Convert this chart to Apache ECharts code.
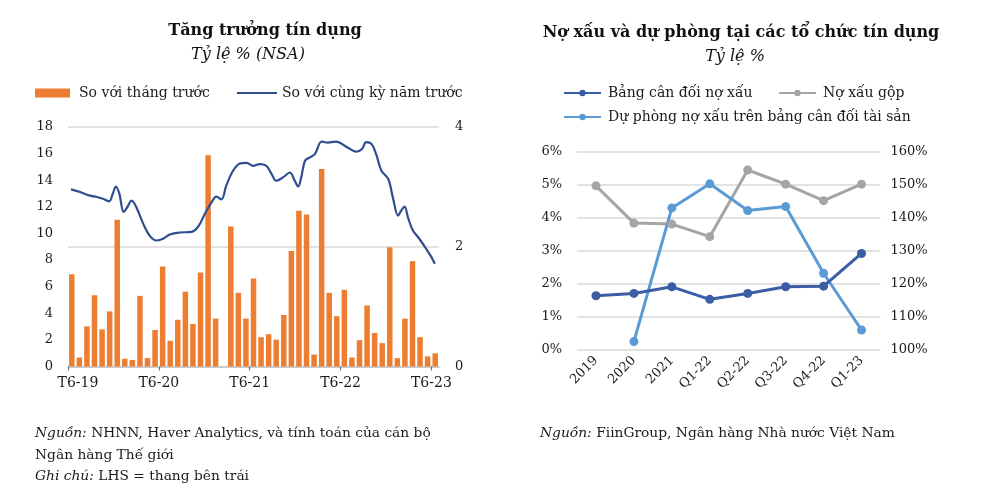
<!DOCTYPE html>
<html><head><meta charset="utf-8">
<script src="https://cdn.jsdelivr.net/npm/echarts@6/dist/echarts.min.js"></script>
<style>html,body{margin:0;padding:0;background:#fff}#c{width:1000px;height:499px}</style>
</head><body><div id="c"></div>
<script>
// ---- Left chart data ----
const monthTickLabels = ['T6-19', 'T6-20', 'T6-21', 'T6-22', 'T6-23'];
const monthTickPos = [0, 12, 24, 36, 48];
// month-on-month growth (RHS), Jun-2019 .. Jun-2023
const momGrowth = [1.54, 0.15, 0.67, 1.19, 0.62, 0.92, 2.45, 0.13, 0.11, 1.18, 0.14, 0.61,
  1.67, 0.43, 0.78, 1.25, 0.71, 1.57, 3.53, 0.80, -0.07, 2.34, 1.23, 0.80,
  1.47, 0.49, 0.54, 0.45, 0.86, 1.93, 2.60, 2.54, 0.20, 3.30, 1.23, 0.84,
  1.28, 0.15, 0.44, 1.02, 0.56, 0.39, 1.99, 0.14, 0.80, 1.76, 0.49, 0.17, 0.22];
// year-on-year growth (LHS): time in months since start of Jun-2019
const yoyTime = [0.4, 1.6, 2.9, 3.8, 4.7, 5.45, 5.9, 6.33, 6.77, 7.35, 7.8, 8.4, 9.07, 9.94, 10.8, 11.7, 12.57, 13.46, 14.8, 16.3,
  17.2, 18.07, 18.96, 19.6, 20.27, 20.9, 21.8, 22.7, 23.6, 24.45, 25.3, 26.2, 26.9, 27.5, 28.4, 29.3, 29.95, 30.4, 30.8,
  31.3, 31.9, 32.6, 33.5, 34.3, 35.4, 36.8, 38.1, 38.8, 39.4, 40.1, 40.7, 41.4, 42.3, 42.9, 43.6, 44.0, 44.46, 44.9,
  45.55, 46.4, 47.3, 48.0, 48.45];
const yoyGrowth = [13.31, 13.11, 12.84, 12.74, 12.59, 12.41, 12.96, 13.53, 13.01, 11.62, 11.95, 12.46, 11.92, 10.72, 9.82, 9.47, 9.6, 9.92, 10.07, 10.12,
  10.52, 11.47, 12.34, 12.76, 12.56, 13.59, 14.71, 15.25, 15.31, 15.08, 15.21, 15.08, 14.46, 13.96, 14.21, 14.58, 13.96, 13.53, 14.21,
  15.46, 15.7, 15.96, 16.9, 16.83, 16.9, 16.5, 16.15, 16.33, 16.86, 16.71, 15.96, 14.71, 14.09, 12.71, 11.34, 11.71, 12.01, 11.21,
  10.22, 9.6, 8.85, 8.22, 7.72];
// ---- Right chart data ----
const periods = ['2019', '2020', '2021', 'Q1-22', 'Q2-22', 'Q3-22', 'Q4-22', 'Q1-23'];
const nplBalance = [1.63, 1.70, 1.90, 1.52, 1.70, 1.90, 1.92, 2.91];
const nplGross = [4.96, 3.83, 3.80, 3.42, 5.44, 5.01, 4.51, 5.01];
const llrCoverage = [null, 102.4, 142.9, 150.2, 142.1, 143.3, 123.1, 105.9];

const months = momGrowth.map((_, i) => {
  const m = (5 + i) % 12 + 1, y = 19 + Math.floor((5 + i) / 12);
  return 'T' + m + '-' + y;
});

const FONT = '"DejaVu Serif", serif';
const TXT = '#1a1a1a';
const GRIDC = '#D9D9D9';
const FN = 13.8;

const chart = echarts.init(document.getElementById('c'), null, { renderer: 'canvas' });
const labelBase = { fontFamily: FONT, fontSize: 13, color: TXT };
const italicRich = { i: { fontFamily: FONT, fontSize: FN, fontStyle: 'italic', fill: TXT } };

chart.setOption({
  animation: false,
  backgroundColor: '#fff',
  graphic: [
    { type: 'text', x: 265, y: 31, style: { text: 'Tăng trưởng tín dụng', font: 'bold 16px ' + FONT, fill: '#111', align: 'center', verticalAlign: 'middle' } },
    { type: 'text', x: 248, y: 55, style: { text: 'Tỷ lệ % (NSA)', font: 'italic 16px ' + FONT, fill: '#111', align: 'center', verticalAlign: 'middle' } },
    { type: 'text', x: 741, y: 33, style: { text: 'Nợ xấu và dự phòng tại các tổ chức tín dụng', font: 'bold 16px ' + FONT, fill: '#111', align: 'center', verticalAlign: 'middle' } },
    { type: 'text', x: 735, y: 57, style: { text: 'Tỷ lệ %', font: 'italic 16px ' + FONT, fill: '#111', align: 'center', verticalAlign: 'middle' } },
    { type: 'text', x: 35, y: 433, style: { text: '{i|Nguồn:} NHNN, Haver Analytics, và tính toán của cán bộ', font: FN + 'px ' + FONT, fill: TXT, verticalAlign: 'middle', rich: italicRich } },
    { type: 'text', x: 35, y: 455, style: { text: 'Ngân hàng Thế giới', font: FN + 'px ' + FONT, fill: TXT, verticalAlign: 'middle' } },
    { type: 'text', x: 35, y: 476, style: { text: '{i|Ghi chú:} LHS = thang bên trái', font: FN + 'px ' + FONT, fill: TXT, verticalAlign: 'middle', rich: italicRich } },
    { type: 'text', x: 540, y: 433, style: { text: '{i|Nguồn:} FiinGroup, Ngân hàng Nhà nước Việt Nam', font: FN + 'px ' + FONT, fill: TXT, verticalAlign: 'middle', rich: italicRich } }
  ],
  legend: [
    { data: ['So với tháng trước'], left: 35, top: 86, padding: 0, icon: 'rect', itemWidth: 35, itemHeight: 9, textStyle: { fontFamily: FONT, fontSize: 14, color: TXT, padding: [0, 0, 0, 4] } },
    { data: [{ name: 'So với cùng kỳ năm trước', icon: 'rect' }], left: 237, top: 86, padding: 0, itemWidth: 40, itemHeight: 2, textStyle: { fontFamily: FONT, fontSize: 14, color: TXT } },
    { data: ['Bảng cân đối nợ xấu'], left: 563, top: 86, padding: 0, itemWidth: 37, itemHeight: 8, textStyle: { fontFamily: FONT, fontSize: 14, color: TXT, padding: [0, 0, 0, 2] } },
    { data: ['Nợ xấu gộp'], left: 778, top: 86, padding: 0, itemWidth: 37, itemHeight: 8, textStyle: { fontFamily: FONT, fontSize: 14, color: TXT, padding: [0, 0, 0, 2] } },
    { data: ['Dự phòng nợ xấu trên bảng cân đối tài sản'], left: 563, top: 110, padding: 0, itemWidth: 37, itemHeight: 8, textStyle: { fontFamily: FONT, fontSize: 14, color: TXT, padding: [0, 0, 0, 2] } }
  ],
  grid: [
    { left: 68, top: 127, width: 371, height: 239.5 },
    { left: 577, top: 151.5, width: 303.5, height: 198 }
  ],
  xAxis: [
    { type: 'category', gridIndex: 0, data: months, boundaryGap: true, show: false },
    { type: 'value', gridIndex: 0, min: 0, max: 49, position: 'bottom',
      axisLine: { show: true, lineStyle: { color: '#C4C4C4', width: 1.5 } },
      axisTick: { show: true, customValues: monthTickPos, length: 4, lineStyle: { color: '#777', width: 1.2 } },
      splitLine: { show: false },
      axisLabel: Object.assign({}, labelBase, { fontSize: 14, margin: 10, customValues: monthTickPos,
        formatter: v => { const k = monthTickPos.indexOf(v); if (k < 0) return ''; return k === 0 ? '{f|' + monthTickLabels[k] + '}' : monthTickLabels[k]; },
        rich: { f: { fontFamily: FONT, fontSize: 14, color: TXT, padding: [0, 0, 0, 20] } } }) },
    { type: 'category', gridIndex: 1, data: periods, boundaryGap: true,
      axisLine: { show: false }, axisTick: { show: false },
      axisLabel: Object.assign({}, labelBase, { rotate: 45, margin: 9, interval: 0 }) }
  ],
  yAxis: [
    { type: 'value', gridIndex: 0, min: 0, max: 18, interval: 2, position: 'left',
      axisLine: { show: false }, axisTick: { show: false }, splitLine: { show: false },
      axisLabel: Object.assign({}, labelBase, { margin: 15 }) },
    { type: 'value', gridIndex: 0, min: 0, max: 4, interval: 2, position: 'right',
      axisLine: { show: false }, axisTick: { show: false },
      splitLine: { show: true, lineStyle: { color: GRIDC, width: 1.5 } },
      axisLabel: Object.assign({}, labelBase, { margin: 16 }) },
    { type: 'value', gridIndex: 1, min: 0, max: 6, interval: 1, position: 'left',
      axisLine: { show: false }, axisTick: { show: false },
      splitLine: { show: true, lineStyle: { color: GRIDC, width: 1.5 } },
      axisLabel: Object.assign({}, labelBase, { margin: 15, formatter: '{value}%' }) },
    { type: 'value', gridIndex: 1, min: 100, max: 160, interval: 10, position: 'right',
      axisLine: { show: false }, axisTick: { show: false }, splitLine: { show: false },
      axisLabel: Object.assign({}, labelBase, { margin: 10, formatter: '{value}%' }) }
  ],
  series: [
    { name: 'So với tháng trước', type: 'bar', xAxisIndex: 0, yAxisIndex: 1, data: momGrowth, barWidth: 5.5,
      itemStyle: { color: '#ED7D31' } },
    { name: 'So với cùng kỳ năm trước', type: 'line', xAxisIndex: 1, yAxisIndex: 0,
      data: yoyTime.map((t, i) => [t, yoyGrowth[i]]), smooth: 0.35, symbol: 'none',
      lineStyle: { color: '#2F4E8E', width: 2.2 }, itemStyle: { color: '#2F4E8E' } },
    { name: 'Nợ xấu gộp', type: 'line', xAxisIndex: 2, yAxisIndex: 2, data: nplGross,
      symbol: 'circle', symbolSize: 9, lineStyle: { color: '#A5A5A5', width: 3 }, itemStyle: { color: '#A5A5A5' } },
    { name: 'Dự phòng nợ xấu trên bảng cân đối tài sản', type: 'line', xAxisIndex: 2, yAxisIndex: 3, data: llrCoverage,
      symbol: 'circle', symbolSize: 9, lineStyle: { color: '#5B9BD5', width: 3 }, itemStyle: { color: '#5B9BD5' } },
    { name: 'Bảng cân đối nợ xấu', type: 'line', xAxisIndex: 2, yAxisIndex: 2, data: nplBalance,
      symbol: 'circle', symbolSize: 9, lineStyle: { color: '#3A5DA6', width: 3 }, itemStyle: { color: '#3A5DA6' } }
  ]
});
</script></body></html>
